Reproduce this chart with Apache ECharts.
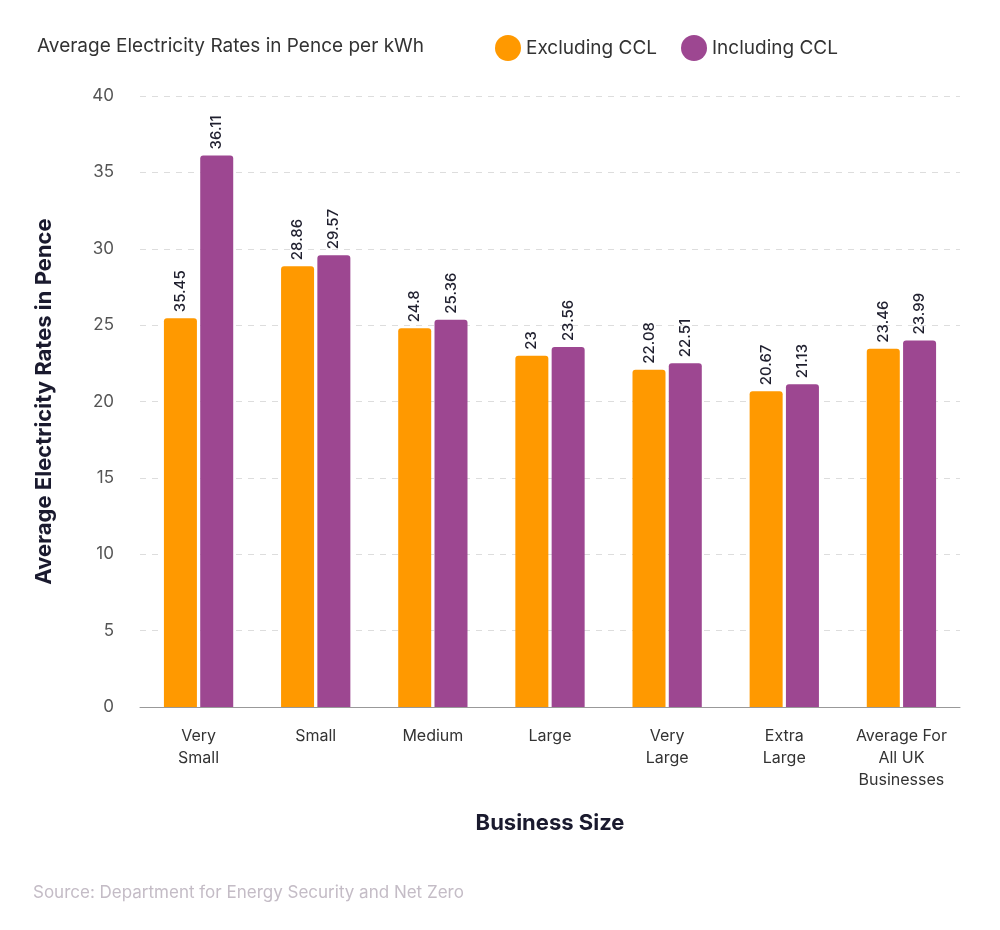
<!DOCTYPE html>
<html><head><meta charset="utf-8">
<script src="https://cdn.jsdelivr.net/npm/echarts@6/dist/echarts.min.js"></script>
<style>html,body{margin:0;padding:0;background:#fff}#c{width:1000px;height:930px}</style>
</head><body><div id="c"></div>
<script>
const categories = ['Very\nSmall','Small','Medium','Large','Very\nLarge','Extra\nLarge','Average For\nAll UK\nBusinesses'];
const excludingCCL = [25.45, 28.86, 24.8, 23, 22.08, 20.67, 23.46];
const excludingLabels = ['35.45','28.86','24.8','23','22.08','20.67','23.46'];
const includingCCL = [36.11, 29.57, 25.36, 23.56, 22.51, 21.13, 23.99];
const yTicks = [0,5,10,15,20,25,30,35,40];

const chart = echarts.init(document.getElementById('c'));
const font = 'Inter, "Noto Sans", sans-serif';
const lbl = (arr) => ({show:true, position:'top', rotate:90, align:'left', verticalAlign:'middle', distance:6,
  color:'#1f1f2e', fontSize:15, fontWeight:500, fontFamily:font,
  formatter: p => arr ? arr[p.dataIndex] : String(p.value)});
chart.setOption({
  animation:false,
  title:[{text:'Average Electricity Rates in Pence per kWh', left:32, top:32, textStyle:{fontSize:19, fontWeight:'normal', color:'#333', fontFamily:font}},
         {text:'Source: Department for Energy Security and Net Zero', left:28, top:879, textStyle:{fontSize:17, fontWeight:'normal', color:'#c4bcc6', fontFamily:font}}],
  legend:{left:490, top:30, itemWidth:26, itemHeight:26, icon:'circle', itemGap:24,
    textStyle:{fontSize:19, color:'#333', fontFamily:font}, data:['Excluding CCL','Including CCL']},
  grid:{left:140, right:40, top:96, bottom:223},
  xAxis:{type:'category', data:categories, name:'Business Size', nameLocation:'middle', nameGap:105,
    nameTextStyle:{fontSize:22, fontWeight:'bold', color:'#1a1a2e', fontFamily:font},
    axisLine:{lineStyle:{color:'#999'}}, axisTick:{show:false},
    axisLabel:{fontSize:16, color:'#333', lineHeight:22, margin:18, fontFamily:font, interval:0}},
  yAxis:{type:'value', min:0, max:40, interval:5, name:'Average Electricity Rates in Pence', nameLocation:'middle', nameGap:85,
    nameTextStyle:{fontSize:22, fontWeight:'bold', color:'#1a1a2e', fontFamily:font},
    axisLabel:{fontSize:17, color:'#555', margin:26, fontFamily:font, formatter:v=>yTicks.includes(v)?String(v):''},
    splitLine:{lineStyle:{type:[6,6], color:'#ddd'}}},
  series:[
    {name:'Excluding CCL', type:'bar', data:excludingCCL, barWidth:33, barGap:'10%', itemStyle:{color:'#ff9900', borderRadius:[3,3,0,0]}, label:lbl(excludingLabels)},
    {name:'Including CCL', type:'bar', data:includingCCL, barWidth:33, itemStyle:{color:'#9d4791', borderRadius:[3,3,0,0]}, label:lbl(null)}
  ]
});
</script></body></html>
